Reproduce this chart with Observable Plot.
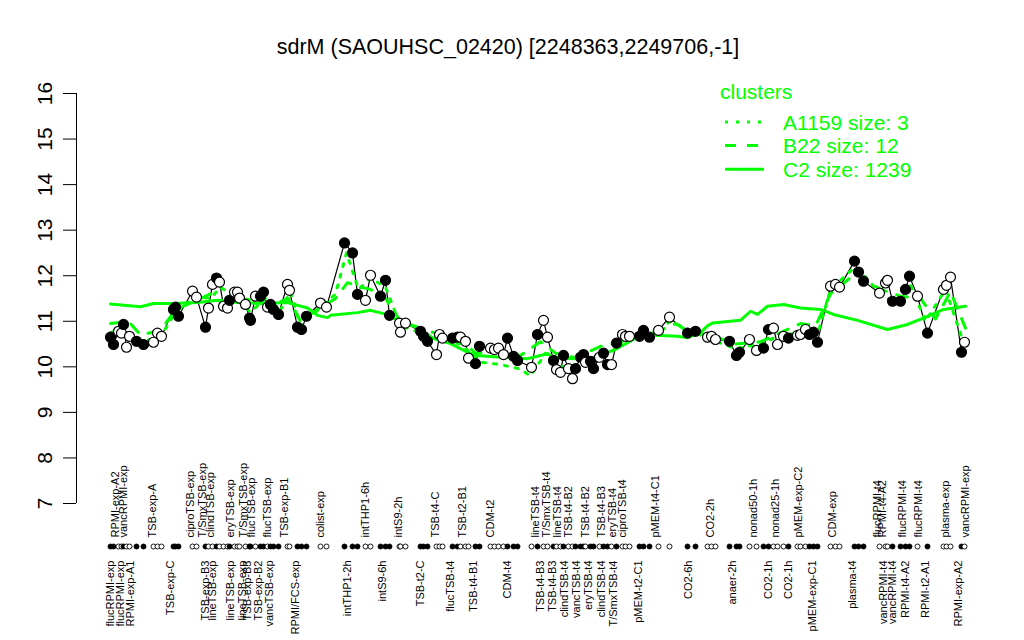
<!DOCTYPE html>
<html><head><meta charset="utf-8">
<script src="https://cdn.jsdelivr.net/npm/d3@7"></script>
<script src="https://cdn.jsdelivr.net/npm/@observablehq/plot@0.6"></script>
<style>
body{margin:0;background:#fff;font-family:"Liberation Sans",Arial,sans-serif;}
#wrap{position:relative;width:1024px;height:640px;overflow:hidden;}
#legend{position:absolute;left:700px;top:75px;}
</style></head>
<body><div id="wrap"><div id="chart"></div><div id="legend"></div></div>
<script>
const title = "sdrM (SAOUHSC_02420) [2248363,2249706,-1]";
const yTicks = [7, 8, 9, 10, 11, 12, 13, 14, 15, 16];
const yDomain = [7, 16];
const xDomain = [-24, 875];
const green = "#00ff00";

// sample positions along the x axis and expression values
const samplePos = [10,13,18,21,23,26,29,36,43,53,57,61,73,75,78,92,96,105,108,112,116,119,123,127,129,134,137,139,145,149,150,155,160,163,167,170,173,178,187,189,197,201,206,220,226,244,252,257,265,270,280,285,289,299,300,305,
320,323,327,336,339,342,352,357,360,365,368,375,379,390,394,398,403,407,413,417,431,437,443,447,453,456,460,463,468,472,475,480,483,485,490,493,499,503,507,511,516,522,525,529,539,543,549,558,569,587,595,
607,611,615,629,636,639,649,656,663,668,673,677,683,688,697,700,705,709,713,717,730,735,739,754,758,763,779,785,787,792,800,805,809,817,827,843,846,850,861,864];
const sampleVal = [10.65,10.49,10.78,10.74,10.93,10.43,10.67,10.56,10.49,10.54,10.74,10.67,11.26,11.31,11.11,11.66,11.53,10.87,11.29,11.81,11.95,11.86,11.33,11.29,11.46,11.64,11.64,11.51,11.37,11.07,11.02,11.55,11.55,11.64,11.31,11.37,11.26,11.15,11.81,11.68,10.87,10.82,11.11,11.40,11.31,12.72,12.50,11.59,11.46,12.01,11.55,11.90,11.13,10.96,10.76,10.96,
10.78,10.67,10.56,10.27,10.71,10.63,10.63,10.65,10.65,10.56,10.19,10.07,10.45,10.41,10.38,10.41,10.27,10.63,10.23,10.14,9.99,10.71,11.02,10.65,10.14,9.94,9.88,10.25,9.96,9.74,9.96,10.21,10.27,10.10,10.12,9.96,10.21,10.30,10.05,10.05,10.52,10.71,10.67,10.67,10.67,10.80,10.65,10.80,11.09,10.74,10.78,
10.65,10.67,10.60,10.56,10.25,10.32,10.60,10.36,10.41,10.82,10.85,10.49,10.67,10.63,10.69,10.71,10.82,10.71,10.76,10.54,11.77,11.81,11.75,12.32,12.08,11.88,11.62,11.84,11.90,11.44,11.44,11.70,11.99,11.55,10.74,11.70,11.79,11.97,10.32,10.54];
// b = filled (black) point, w = open (white) point
const sampleFill = ("bbwwbwwbbwwwbbbwwbwwbwwwbwwwwbbwbbwbbbwwbbbwwbbbwwbbbwww" +
  "bbbwwwbbwwwbbwwwwbbbwbwwbwwbwwbbbwbbwbbwbwwwbbbwwbb" +
  "wwwbbbwwbbwwwbwwwbbbwwwbbbwwwbbbbwbwwwbw").split("");

// cluster mean profiles
const c2Pos = [10,40,53,73,97,117,137,163,187,207,217,227,230,257,270,290,297,317,333,350,367,377,400,427,440,447,453,473,493,513,527,540,560,577,587,600,607,612,640,650,657,667,683,700,720,733,757,787,807,823,843,865];
const c2Val = [11.38,11.32,11.39,11.39,11.41,11.46,11.41,11.39,11.41,11.29,11.13,11.08,11.13,11.19,11.24,11.13,11.02,10.86,10.62,10.51,10.32,10.25,10.21,10.18,10.25,10.29,10.21,10.18,10.21,10.36,10.53,10.69,10.69,10.67,10.64,10.75,10.9,10.96,11.02,11.22,11.15,11.33,11.37,11.29,11.26,11.15,11.02,10.82,10.93,11.07,11.26,11.33];
const b22Pos = [10,28,40,60,75,95,110,125,140,155,170,188,200,220,235,247,260,270,285,300,320,340,360,375,400,420,440,455,475,500,520,540,560,575,590,610,635,660,680,700,715,730,755,780,800,820,835,850,865];
const b22Val = [10.95,11.0,10.7,10.8,11.25,11.45,11.6,11.35,11.5,11.45,11.35,11.5,11.0,11.3,11.5,11.85,11.75,11.7,11.5,11.0,10.85,10.7,10.6,10.3,10.35,10.25,10.55,10.3,10.2,10.45,10.55,10.75,10.8,10.95,10.75,10.7,10.5,10.55,10.75,10.95,10.9,11.6,12.05,11.7,11.55,11.5,11.05,11.65,10.85];
const a1159Pos = [10,25,40,60,75,95,110,120,135,150,165,180,190,200,220,235,246,258,270,285,300,320,340,360,380,400,420,430,445,460,480,500,515,530,550,570,590,610,635,660,680,700,717,730,755,770,780,795,810,825,845,862];
const a1159Val = [10.75,10.85,10.55,10.65,11.2,11.55,11.5,11.75,11.5,11.2,11.5,11.25,11.65,10.9,11.3,11.6,12.5,11.7,11.95,11.75,10.9,10.75,10.6,10.5,10.1,10.05,9.95,9.8,10.3,10.0,10.05,10.2,10.4,10.75,10.7,11.0,10.8,10.6,10.4,10.5,10.7,10.75,10.7,11.7,12.2,11.85,11.6,11.4,11.8,11.0,11.7,10.6];

// sample tick labels (alternating above / below the dot row)
const topLabels = ["RPMI-exp-A2","vancRPMI-exp","TSB-exp-A","ciproTSB-exp","T/SmxTSB-exp","clindTSB-exp","eryTSB-exp","T/SmxTSB-exp","flucTSB-exp","flucTSB-exp","TSB-exp-B1","colist-exp","intTHP1-6h","intS9-2h","TSB-t4-C","TSB-t2-B1","CDM-t2","lineTSB-t4","T/SmxTSB-t4","lineTSB-t4","TSB-t4-B2","TSB-t4-B2","TSB-t4-B3","eryTSB-t4","ciproTSB-t4","pMEM-t4-C1","CO2-2h","nonad50-1h","nonad25-1h","pMEM-exp-C2","CDM-exp","flucRPMI-t4","RPMI-t4-A2","flucRPMI-t4","flucRPMI-t4","plasma-exp","vancRPMI-exp"];
const topLabelPos = [15,23,52,90,102,110,130,143,151,167,184,220,265,298,335,362,390,435,446,457,468,485,501,512,522,555,610,653,675,698,732,777,782,802,818,845,865];
const bottomLabels = ["flucRPMI-exp","flucRPMI-exp","RPMI-exp-A1","TSB-exp-C","TSB-exp-B3","lineTSB-exp","lineTSB-exp","lineTSB-exp","TSB-exp-B3","TSB-exp-B2","vancTSB-exp","RPMI/FCS-exp","intTHP1-2h","intS9-6h","TSB-t2-C","flucTSB-t4","TSB-t4-B1","CDM-t4","TSB-t4-B3","TSB-t4-B3","clindTSB-t4","vancTSB-t4","eryTSB-t4","clindTSB-t4","T/SmxTSB-t4","pMEM-t2-C1","CO2-6h","anaer-2h","CO2-1h","CO2-1h","pMEM-exp-C1","plasma-t4","vancRPMI-t4","vancRPMI-t4","RPMI-t4-A2","RPMI-t2-A1","RPMI-exp-A2"];
const bottomLabelPos = [10,20,30,70,105,112,130,142,147,158,169,195,247,282,320,350,373,407,440,452,464,476,488,501,513,538,588,632,668,688,712,752,783,792,805,825,858];

const legendTitle = "clusters";
const legendNames = ["A1159 size: 3", "B22 size: 12", "C2 size: 1239"];
const legendDash = ["3,8", "11,11", null];

const samples = samplePos.map((p, i) => ({pos: p, val: sampleVal[i], fill: sampleFill[i] === "b" ? "#000" : "#fff"}));
const prof = (pos, val) => pos.map((p, i) => ({pos: p, val: val[i]}));
const font = '"Liberation Sans", Arial, Helvetica, sans-serif';

const chart = Plot.plot({
  width: 1024, height: 640,
  marginLeft: 76, marginRight: 49, marginTop: 93, marginBottom: 137,
  style: {fontFamily: font, background: "#fff", color: "#000"},
  x: {domain: xDomain, axis: null},
  y: {domain: yDomain, axis: null},
  color: {type: "identity"},
  marks: [
    Plot.ruleX([xDomain[0]], {y1: yDomain[0], y2: yDomain[1], stroke: "#000", strokeWidth: 1}),
    Plot.axisY({ticks: yTicks, tickSize: 13, tickFormat: () => "", label: null, stroke: "#000", strokeWidth: 1}),
    Plot.text(yTicks, {y: d => d, text: d => String(d), frameAnchor: "left", dx: -25, rotate: -90,
      textAnchor: "middle", lineAnchor: "bottom", fontSize: 21, fill: "#000"}),
    Plot.line(samples, {x: "pos", y: "val", stroke: "#000", strokeWidth: 1.2}),
    Plot.line(prof(c2Pos, c2Val), {x: "pos", y: "val", stroke: green, strokeWidth: 3}),
    Plot.line(prof(b22Pos, b22Val), {x: "pos", y: "val", stroke: green, strokeWidth: 3, strokeDasharray: "11,11"}),
    Plot.line(prof(a1159Pos, a1159Val), {x: "pos", y: "val", stroke: green, strokeWidth: 3, strokeDasharray: "3,8"}),
    Plot.dot(samples, {x: "pos", y: "val", r: 5, fill: "fill", stroke: "#000", strokeWidth: 1.2}),
    Plot.dot(samples, {x: "pos", frameAnchor: "bottom", dy: 43, r: 2.5, fill: "fill", stroke: "#000", strokeWidth: 0.9}),
    Plot.text(topLabelPos, {x: d => d, text: (d, i) => topLabels[i], frameAnchor: "bottom", dy: 34, rotate: -90,
      textAnchor: "start", lineAnchor: "middle", fontSize: 11, fill: "#000"}),
    Plot.text(bottomLabelPos, {x: d => d, text: (d, i) => bottomLabels[i], frameAnchor: "bottom", dy: 57, rotate: -90,
      textAnchor: "end", lineAnchor: "middle", fontSize: 11, fill: "#000"}),
    Plot.text([title], {frameAnchor: "top", dx: -18, dy: -46, lineAnchor: "middle", fontSize: 21.5, fill: "#000"})
  ]
});
document.getElementById("chart").appendChild(chart);

// legend
const ns = "http://www.w3.org/2000/svg";
const lg = document.createElementNS(ns, "svg");
lg.setAttribute("width", 300); lg.setAttribute("height", 115);
lg.style.fontFamily = font;
const t0 = document.createElementNS(ns, "text");
t0.setAttribute("x", 20); t0.setAttribute("y", 24); t0.setAttribute("font-size", 21); t0.setAttribute("fill", green);
t0.textContent = legendTitle; lg.appendChild(t0);
legendNames.forEach((name, i) => {
  const cy = 47 + i * 23.6;
  const ln = document.createElementNS(ns, "line");
  ln.setAttribute("x1", 25); ln.setAttribute("x2", 64); ln.setAttribute("y1", cy); ln.setAttribute("y2", cy);
  ln.setAttribute("stroke", green); ln.setAttribute("stroke-width", 3);
  if (legendDash[i]) ln.setAttribute("stroke-dasharray", legendDash[i]);
  lg.appendChild(ln);
  const tx = document.createElementNS(ns, "text");
  tx.setAttribute("x", 83); tx.setAttribute("y", cy + 7.5); tx.setAttribute("font-size", 21); tx.setAttribute("fill", green);
  tx.textContent = name; lg.appendChild(tx);
});
document.getElementById("legend").appendChild(lg);
</script></body></html>
